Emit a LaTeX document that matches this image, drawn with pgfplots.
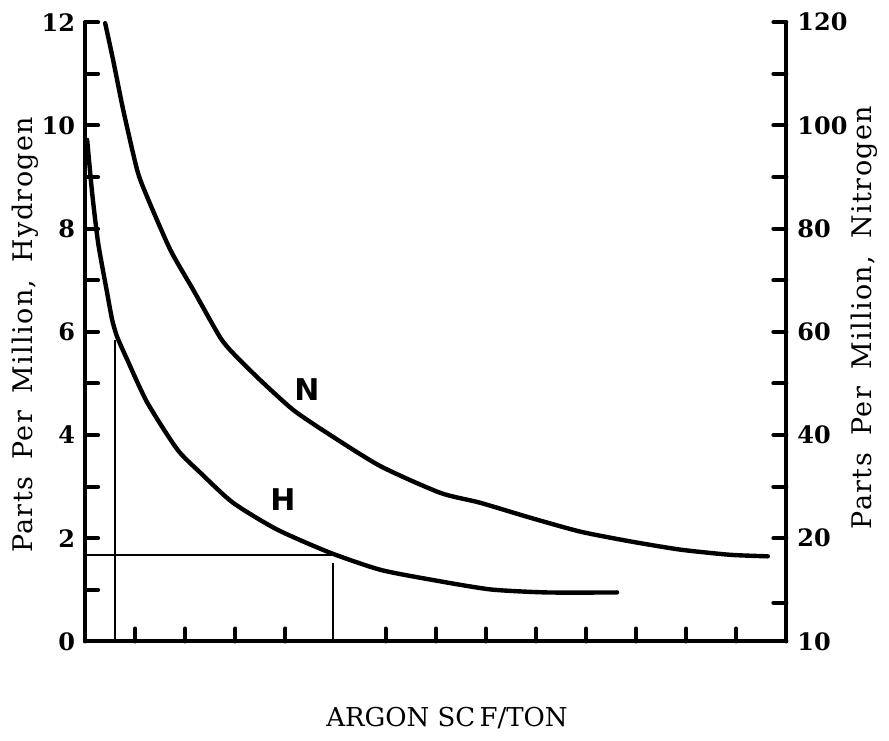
\documentclass[border=0pt]{standalone}
\usepackage{fontspec}
\setmainfont{DejaVu Serif}
\setsansfont{DejaVu Sans}
\newfontfamily\lblfont[LetterSpace=5]{DejaVu Serif}
\usepackage{pgfplots}
\pgfplotsset{compat=1.18}
\begin{document}
\begin{tikzpicture}
\begin{axis}[
  scale only axis, width=351pt, height=310pt,
  xmin=0, xmax=14, ymin=0, ymax=12,
  axis x line*=bottom, axis y line*=left,
  axis line style={-, line width=2pt, line cap=round},
  tick align=inside,
  xtick={1,2,3,4,6,7,8,9,10,11,12,13}, xticklabels={},
  ytick={0,2,...,12}, minor ytick={1,3,...,11},
  major tick length=6.5pt, minor tick length=6.5pt,
  tick style={line width=2pt, line cap=round, black},
  yticklabel style={font=\fontsize{12}{12}\selectfont\bfseries, xshift=-1.5pt},
  /pgf/number format/assume math mode=true,
  ylabel={Parts\hspace{0.65em}Per\hspace{0.65em}Million,\hspace{0.65em}Hydrogen},
  ylabel style={at={(axis description cs:-0.0855,0.495)}, anchor=center, font=\lblfont\fontsize{13.5}{16}\selectfont},
  xlabel={ARGON SC\,F/TON},
  xlabel style={at={(axis description cs:0.516,-0.123)}, anchor=center, font=\fontsize{13}{16}\selectfont},
  clip=false,
]
\addplot[line width=2.2pt, line cap=round, smooth, tension=0.4] coordinates {
(0.04,9.72) (0.14,8.69) (0.26,7.72) (0.44,6.75) (0.54,6.23) (0.64,5.90) (0.84,5.46) (1.24,4.63) (1.84,3.72) (2.30,3.27) (2.95,2.69) (3.83,2.17) (4.89,1.72) (5.89,1.39) (6.89,1.20) (8.08,1.01) (9.22,0.95) (10.62,0.95)};
\addplot[line width=1pt] coordinates {(0.60,0) (0.60,5.84)};
\addplot[line width=1pt] coordinates {(0,1.68) (4.93,1.68)};
\addplot[line width=1pt] coordinates {(4.95,0) (4.95,1.53)};
\node[font=\sffamily\bfseries\fontsize{15}{15}\selectfont] at (axis cs:4.43,4.88) {N};
\node[font=\sffamily\bfseries\fontsize{15}{15}\selectfont] at (axis cs:3.95,2.75) {H};
\coordinate (bl) at (axis cs:-1.70,-1.92);
\coordinate (tr) at (axis cs:16.05,12.43);
\end{axis}
\begin{axis}[
  scale only axis, width=351pt, height=310pt,
  xmin=0, xmax=14, ymin=0, ymax=120,
  axis x line=none, axis y line*=right,
  axis line style={-, line width=2pt, line cap=round},
  tick align=inside,
  ytick={0,7.5,20,30,...,120},
  yticklabels={10,,20,,40,,60,,80,,100,,120},
  major tick length=6.5pt,
  tick style={line width=2pt, line cap=round, black},
  yticklabel style={font=\fontsize{12}{12}\selectfont\bfseries, xshift=2pt},
  ylabel={Parts\hspace{0.65em}Per\hspace{0.65em}Million,\hspace{0.65em}Nitrogen},
  ylabel style={at={(axis description cs:1.111,0.523)}, anchor=center, rotate=0, font=\lblfont\fontsize{13.5}{16}\selectfont},
  clip=false,
]
\addplot[line width=2.2pt, line cap=round, smooth, tension=0.4] coordinates {
(0.40,119.8) (0.56,112.6) (0.76,103.0) (1.04,91.3) (1.24,86.1) (1.70,75.9) (2.16,68.1) (2.69,59.0) (2.95,55.9) (3.49,50.7) (4.15,44.9) (4.83,40.4) (5.89,34.0) (7.09,28.8) (7.88,26.9) (8.88,24.0) (9.88,21.3) (10.88,19.4) (11.88,17.8) (12.87,16.8) (13.63,16.5)};
\end{axis}
\path (bl) rectangle (tr);
\end{tikzpicture}
\end{document}
